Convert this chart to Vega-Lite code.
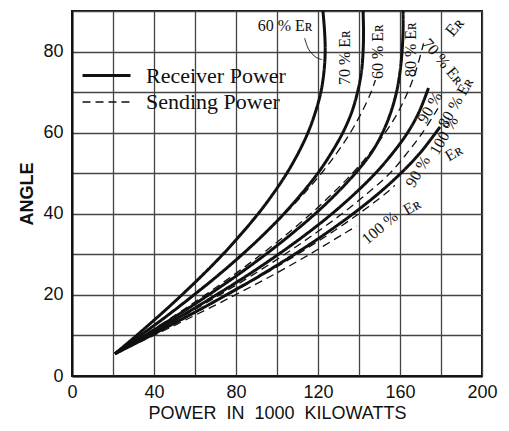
{
  "$schema": "https://vega.github.io/schema/vega-lite/v6.json",
  "width": 410,
  "height": 365,
  "autosize": "none",
  "padding": {"left": 72, "top": 11, "right": 27, "bottom": 55},
  "background": "white",
  "config": {"view": {"stroke": "#111", "strokeWidth": 2}, "font": "Liberation Sans"},
  "datasets": {
    "curves": [
      {"type": "Receiver Power", "er": "60", "angle": 5.5, "power": 21},
      {"type": "Receiver Power", "er": "60", "angle": 10, "power": 31.5},
      {"type": "Receiver Power", "er": "60", "angle": 15, "power": 42.8},
      {"type": "Receiver Power", "er": "60", "angle": 20, "power": 53.6},
      {"type": "Receiver Power", "er": "60", "angle": 25, "power": 63.9},
      {"type": "Receiver Power", "er": "60", "angle": 30, "power": 73.6},
      {"type": "Receiver Power", "er": "60", "angle": 35, "power": 82.5},
      {"type": "Receiver Power", "er": "60", "angle": 40, "power": 90.8},
      {"type": "Receiver Power", "er": "60", "angle": 45, "power": 98.2},
      {"type": "Receiver Power", "er": "60", "angle": 50, "power": 104.8},
      {"type": "Receiver Power", "er": "60", "angle": 55, "power": 110.4},
      {"type": "Receiver Power", "er": "60", "angle": 60, "power": 115.1},
      {"type": "Receiver Power", "er": "60", "angle": 65, "power": 118.7},
      {"type": "Receiver Power", "er": "60", "angle": 70, "power": 121.4},
      {"type": "Receiver Power", "er": "60", "angle": 75, "power": 122.9},
      {"type": "Receiver Power", "er": "60", "angle": 80, "power": 123.5},
      {"type": "Receiver Power", "er": "60", "angle": 85, "power": 123.2},
      {"type": "Receiver Power", "er": "60", "angle": 90, "power": 122.4},
      {"type": "Receiver Power", "er": "70", "angle": 5.5, "power": 21},
      {"type": "Receiver Power", "er": "70", "angle": 10, "power": 33.4},
      {"type": "Receiver Power", "er": "70", "angle": 15, "power": 46.8},
      {"type": "Receiver Power", "er": "70", "angle": 20, "power": 59.5},
      {"type": "Receiver Power", "er": "70", "angle": 25, "power": 71.7},
      {"type": "Receiver Power", "er": "70", "angle": 30, "power": 83.1},
      {"type": "Receiver Power", "er": "70", "angle": 35, "power": 93.7},
      {"type": "Receiver Power", "er": "70", "angle": 40, "power": 103.4},
      {"type": "Receiver Power", "er": "70", "angle": 45, "power": 112.1},
      {"type": "Receiver Power", "er": "70", "angle": 50, "power": 119.9},
      {"type": "Receiver Power", "er": "70", "angle": 55, "power": 126.5},
      {"type": "Receiver Power", "er": "70", "angle": 60, "power": 132.1},
      {"type": "Receiver Power", "er": "70", "angle": 65, "power": 136.4},
      {"type": "Receiver Power", "er": "70", "angle": 70, "power": 139.3},
      {"type": "Receiver Power", "er": "70", "angle": 75, "power": 141.2},
      {"type": "Receiver Power", "er": "70", "angle": 80, "power": 142},
      {"type": "Receiver Power", "er": "70", "angle": 85, "power": 142.2},
      {"type": "Receiver Power", "er": "70", "angle": 90, "power": 142},
      {"type": "Receiver Power", "er": "80", "angle": 5.5, "power": 21},
      {"type": "Receiver Power", "er": "80", "angle": 10, "power": 35.6},
      {"type": "Receiver Power", "er": "80", "angle": 15, "power": 51.5},
      {"type": "Receiver Power", "er": "80", "angle": 20, "power": 66.6},
      {"type": "Receiver Power", "er": "80", "angle": 25, "power": 81},
      {"type": "Receiver Power", "er": "80", "angle": 30, "power": 94.5},
      {"type": "Receiver Power", "er": "80", "angle": 35, "power": 107},
      {"type": "Receiver Power", "er": "80", "angle": 40, "power": 118.6},
      {"type": "Receiver Power", "er": "80", "angle": 45, "power": 129},
      {"type": "Receiver Power", "er": "80", "angle": 50, "power": 138.2},
      {"type": "Receiver Power", "er": "80", "angle": 55, "power": 146},
      {"type": "Receiver Power", "er": "80", "angle": 60, "power": 151.5},
      {"type": "Receiver Power", "er": "80", "angle": 65, "power": 155.5},
      {"type": "Receiver Power", "er": "80", "angle": 70, "power": 158.3},
      {"type": "Receiver Power", "er": "80", "angle": 75, "power": 160},
      {"type": "Receiver Power", "er": "80", "angle": 80, "power": 161},
      {"type": "Receiver Power", "er": "80", "angle": 85, "power": 161.5},
      {"type": "Receiver Power", "er": "80", "angle": 90, "power": 161.5},
      {"type": "Receiver Power", "er": "90", "angle": 5.5, "power": 21},
      {"type": "Receiver Power", "er": "90", "angle": 10, "power": 36.9},
      {"type": "Receiver Power", "er": "90", "angle": 15, "power": 54.1},
      {"type": "Receiver Power", "er": "90", "angle": 20, "power": 70.4},
      {"type": "Receiver Power", "er": "90", "angle": 25, "power": 86.1},
      {"type": "Receiver Power", "er": "90", "angle": 30, "power": 100.7},
      {"type": "Receiver Power", "er": "90", "angle": 35, "power": 114.3},
      {"type": "Receiver Power", "er": "90", "angle": 40, "power": 126.8},
      {"type": "Receiver Power", "er": "90", "angle": 45, "power": 138},
      {"type": "Receiver Power", "er": "90", "angle": 50, "power": 148},
      {"type": "Receiver Power", "er": "90", "angle": 55, "power": 156.5},
      {"type": "Receiver Power", "er": "90", "angle": 60, "power": 163.7},
      {"type": "Receiver Power", "er": "90", "angle": 65, "power": 169.2},
      {"type": "Receiver Power", "er": "90", "angle": 71, "power": 173.9},
      {"type": "Receiver Power", "er": "100", "angle": 5.5, "power": 21},
      {"type": "Receiver Power", "er": "100", "angle": 10, "power": 38.5},
      {"type": "Receiver Power", "er": "100", "angle": 15, "power": 57.3},
      {"type": "Receiver Power", "er": "100", "angle": 20, "power": 75.3},
      {"type": "Receiver Power", "er": "100", "angle": 25, "power": 92.5},
      {"type": "Receiver Power", "er": "100", "angle": 30, "power": 108.5},
      {"type": "Receiver Power", "er": "100", "angle": 35, "power": 123.4},
      {"type": "Receiver Power", "er": "100", "angle": 40, "power": 137.1},
      {"type": "Receiver Power", "er": "100", "angle": 45, "power": 149.5},
      {"type": "Receiver Power", "er": "100", "angle": 50, "power": 160.4},
      {"type": "Receiver Power", "er": "100", "angle": 55, "power": 169.8},
      {"type": "Receiver Power", "er": "100", "angle": 61.4, "power": 179.5},
      {"type": "Sending Power", "er": "60", "angle": 5.5, "power": 21},
      {"type": "Sending Power", "er": "60", "angle": 10, "power": 33.2},
      {"type": "Sending Power", "er": "60", "angle": 15, "power": 46.4},
      {"type": "Sending Power", "er": "60", "angle": 20, "power": 59.1},
      {"type": "Sending Power", "er": "60", "angle": 25, "power": 71.3},
      {"type": "Sending Power", "er": "60", "angle": 30, "power": 82.9},
      {"type": "Sending Power", "er": "60", "angle": 35, "power": 93.7},
      {"type": "Sending Power", "er": "60", "angle": 40, "power": 103.9},
      {"type": "Sending Power", "er": "60", "angle": 45, "power": 113.2},
      {"type": "Sending Power", "er": "60", "angle": 50, "power": 121.7},
      {"type": "Sending Power", "er": "60", "angle": 55, "power": 129.2},
      {"type": "Sending Power", "er": "60", "angle": 60, "power": 135.8},
      {"type": "Sending Power", "er": "60", "angle": 65, "power": 141.3},
      {"type": "Sending Power", "er": "60", "angle": 70, "power": 145.9},
      {"type": "Sending Power", "er": "60", "angle": 73, "power": 148},
      {"type": "Sending Power", "er": "70", "angle": 5.5, "power": 21},
      {"type": "Sending Power", "er": "70", "angle": 10, "power": 35.1},
      {"type": "Sending Power", "er": "70", "angle": 15, "power": 50.4},
      {"type": "Sending Power", "er": "70", "angle": 20, "power": 65},
      {"type": "Sending Power", "er": "70", "angle": 25, "power": 79.1},
      {"type": "Sending Power", "er": "70", "angle": 30, "power": 92.4},
      {"type": "Sending Power", "er": "70", "angle": 35, "power": 104.9},
      {"type": "Sending Power", "er": "70", "angle": 40, "power": 116.5},
      {"type": "Sending Power", "er": "70", "angle": 45, "power": 127.1},
      {"type": "Sending Power", "er": "70", "angle": 50, "power": 136.8},
      {"type": "Sending Power", "er": "70", "angle": 55, "power": 145.3},
      {"type": "Sending Power", "er": "70", "angle": 60, "power": 152.8},
      {"type": "Sending Power", "er": "70", "angle": 65, "power": 159},
      {"type": "Sending Power", "er": "70", "angle": 70, "power": 163.8},
      {"type": "Sending Power", "er": "70", "angle": 75, "power": 167.6},
      {"type": "Sending Power", "er": "70", "angle": 82, "power": 171.5},
      {"type": "Sending Power", "er": "80", "angle": 5.5, "power": 21},
      {"type": "Sending Power", "er": "80", "angle": 10, "power": 37.3},
      {"type": "Sending Power", "er": "80", "angle": 15, "power": 55.1},
      {"type": "Sending Power", "er": "80", "angle": 20, "power": 72.1},
      {"type": "Sending Power", "er": "80", "angle": 25, "power": 88.4},
      {"type": "Sending Power", "er": "80", "angle": 30, "power": 103.8},
      {"type": "Sending Power", "er": "80", "angle": 35, "power": 118.2},
      {"type": "Sending Power", "er": "80", "angle": 40, "power": 131.7},
      {"type": "Sending Power", "er": "80", "angle": 45, "power": 144},
      {"type": "Sending Power", "er": "80", "angle": 50, "power": 155.1},
      {"type": "Sending Power", "er": "80", "angle": 55, "power": 163.5},
      {"type": "Sending Power", "er": "80", "angle": 60, "power": 171},
      {"type": "Sending Power", "er": "80", "angle": 66, "power": 178.5},
      {"type": "Sending Power", "er": "90", "angle": 5.5, "power": 21},
      {"type": "Sending Power", "er": "90", "angle": 10, "power": 38.6},
      {"type": "Sending Power", "er": "90", "angle": 15, "power": 57.7},
      {"type": "Sending Power", "er": "90", "angle": 20, "power": 75.9},
      {"type": "Sending Power", "er": "90", "angle": 25, "power": 93.5},
      {"type": "Sending Power", "er": "90", "angle": 30, "power": 110},
      {"type": "Sending Power", "er": "90", "angle": 35, "power": 125.5},
      {"type": "Sending Power", "er": "90", "angle": 40, "power": 139.9},
      {"type": "Sending Power", "er": "90", "angle": 45, "power": 153},
      {"type": "Sending Power", "er": "90", "angle": 47, "power": 157.5},
      {"type": "Sending Power", "er": "100", "angle": 5.5, "power": 21},
      {"type": "Sending Power", "er": "100", "angle": 10, "power": 39.9},
      {"type": "Sending Power", "er": "100", "angle": 15, "power": 60.1},
      {"type": "Sending Power", "er": "100", "angle": 20, "power": 79.7},
      {"type": "Sending Power", "er": "100", "angle": 25, "power": 98.4},
      {"type": "Sending Power", "er": "100", "angle": 30, "power": 115.9},
      {"type": "Sending Power", "er": "100", "angle": 35, "power": 132.3},
      {"type": "Sending Power", "er": "100", "angle": 37, "power": 139}
    ],
    "labels": [
      {"g": "h", "label": "60 % Eʀ", "power": 104, "angle": 86.4},
      {"g": "v", "label": "70 % Eʀ", "power": 133.2, "angle": 78.5},
      {"g": "v", "label": "60 % Eʀ", "power": 149.3, "angle": 80},
      {"g": "v", "label": "80 % Eʀ", "power": 165.4, "angle": 80.5},
      {"g": "d", "label": "70 % Eʀ", "power": 181, "angle": 77.5},
      {"g": "u50", "label": "Eʀ", "power": 186.8, "angle": 86},
      {"g": "u60", "label": "90 %", "power": 174.6, "angle": 66.2},
      {"g": "u60", "label": "80 % Eʀ", "power": 187.3, "angle": 67.4},
      {"g": "u60", "label": "100 %", "power": 181.5, "angle": 59.3},
      {"g": "u60", "label": "90 %", "power": 168.8, "angle": 50.4},
      {"g": "u30", "label": "Eʀ", "power": 186.3, "angle": 55},
      {"g": "u30", "label": "Eʀ", "power": 165.9, "angle": 41.7},
      {"g": "u40", "label": "100 %", "power": 150.2, "angle": 36.5}
    ],
    "arrow": [
      {"power": 113.5, "angle": 83.3},
      {"power": 115.5, "angle": 80.5},
      {"power": 119, "angle": 78.6},
      {"power": 122, "angle": 78}
    ]
  },
  "layer": [
    {
      "data": {"name": "curves"},
      "mark": {"type": "line", "interpolate": "catmull-rom", "color": "#111"},
      "encoding": {
        "x": {
          "field": "power", "type": "quantitative",
          "scale": {"domain": [0, 200], "nice": false, "zero": false},
          "axis": {
            "values": [0, 20, 40, 60, 80, 100, 120, 140, 160, 180, 200],
            "labelExpr": "datum.value % 40 === 0 ? datum.label : ''",
            "title": "POWER\u00a0\u00a0IN\u00a0\u00a01000\u00a0\u00a0KILOWATTS",
            "grid": true, "gridColor": "#444", "gridWidth": 1.3, "gridOpacity": 1,
            "ticks": false, "domainColor": "#111", "domainWidth": 2,
            "labelFontSize": 18, "labelPadding": 7, "labelColor": "#111", "labelFlush": false,
            "titleFontSize": 18, "titleFontWeight": "normal", "titlePadding": 3, "titleColor": "#111"
          }
        },
        "y": {
          "field": "angle", "type": "quantitative",
          "scale": {"domain": [0, 90], "nice": false},
          "axis": {
            "values": [0, 10, 20, 30, 40, 50, 60, 70, 80, 90],
            "labelExpr": "datum.value % 20 === 0 ? datum.label : ''",
            "title": "ANGLE",
            "grid": true, "gridColor": "#444", "gridWidth": 1.3, "gridOpacity": 1,
            "ticks": false, "domainColor": "#111", "domainWidth": 2,
            "labelFontSize": 18, "labelPadding": 9, "labelColor": "#111", "labelFlush": false,
            "titleFontSize": 18, "titleFontWeight": "bold", "titlePadding": 6, "titleColor": "#111"
          }
        },
        "order": {"field": "angle", "type": "quantitative"},
        "detail": {"field": "er", "type": "nominal"},
        "strokeDash": {
          "field": "type", "type": "nominal",
          "scale": {"domain": ["Receiver Power", "Sending Power"], "range": [[1, 0], [8, 5]]},
          "legend": {
            "orient": "none", "legendX": 21, "legendY": 51, "title": null, "padding": 0,
            "symbolType": "M-2,0H2", "symbolSize": 576, "symbolStrokeColor": "#111",
            "labelFont": "Liberation Serif", "labelFontSize": 22, "labelColor": "#111",
            "labelOffset": 26, "rowPadding": 2
          }
        },
        "strokeWidth": {
          "field": "type", "type": "nominal",
          "scale": {"domain": ["Receiver Power", "Sending Power"], "range": [3, 1.3]},
          "legend": {
            "orient": "none", "legendX": 21, "legendY": 51, "title": null, "padding": 0,
            "symbolType": "M-2,0H2", "symbolSize": 576, "symbolStrokeColor": "#111",
            "labelFont": "Liberation Serif", "labelFontSize": 22, "labelColor": "#111",
            "labelOffset": 26, "rowPadding": 2
          }
        }
      }
    },
    {
      "data": {"name": "arrow"},
      "mark": {"type": "line", "interpolate": "catmull-rom", "color": "#222", "strokeWidth": 1},
      "encoding": {
        "x": {"field": "power", "type": "quantitative"},
        "y": {"field": "angle", "type": "quantitative"},
        "order": {"field": "angle", "type": "quantitative", "sort": "descending"}
      }
    },
    {
      "data": {"name": "labels"},
      "transform": [{"filter": "datum.g === 'h'"}],
      "mark": {"type": "text", "font": "Liberation Serif", "fontSize": 16, "color": "#111", "angle": 0},
      "encoding": {
        "x": {"field": "power", "type": "quantitative"},
        "y": {"field": "angle", "type": "quantitative"},
        "text": {"field": "label"}
      }
    },
    {
      "data": {"name": "labels"},
      "transform": [{"filter": "datum.g === 'v'"}],
      "mark": {"type": "text", "font": "Liberation Serif", "fontSize": 16, "color": "#111", "angle": 270},
      "encoding": {
        "x": {"field": "power", "type": "quantitative"},
        "y": {"field": "angle", "type": "quantitative"},
        "text": {"field": "label"}
      }
    },
    {
      "data": {"name": "labels"},
      "transform": [{"filter": "datum.g === 'd'"}],
      "mark": {"type": "text", "font": "Liberation Serif", "fontSize": 16, "color": "#111", "angle": 50},
      "encoding": {
        "x": {"field": "power", "type": "quantitative"},
        "y": {"field": "angle", "type": "quantitative"},
        "text": {"field": "label"}
      }
    },
    {
      "data": {"name": "labels"},
      "transform": [{"filter": "datum.g === 'u50'"}],
      "mark": {"type": "text", "font": "Liberation Serif", "fontSize": 17, "color": "#111", "angle": 310},
      "encoding": {
        "x": {"field": "power", "type": "quantitative"},
        "y": {"field": "angle", "type": "quantitative"},
        "text": {"field": "label"}
      }
    },
    {
      "data": {"name": "labels"},
      "transform": [{"filter": "datum.g === 'u60'"}],
      "mark": {"type": "text", "font": "Liberation Serif", "fontSize": 16, "color": "#111", "angle": 300},
      "encoding": {
        "x": {"field": "power", "type": "quantitative"},
        "y": {"field": "angle", "type": "quantitative"},
        "text": {"field": "label"}
      }
    },
    {
      "data": {"name": "labels"},
      "transform": [{"filter": "datum.g === 'u30'"}],
      "mark": {"type": "text", "font": "Liberation Serif", "fontSize": 16, "color": "#111", "angle": 330},
      "encoding": {
        "x": {"field": "power", "type": "quantitative"},
        "y": {"field": "angle", "type": "quantitative"},
        "text": {"field": "label"}
      }
    },
    {
      "data": {"name": "labels"},
      "transform": [{"filter": "datum.g === 'u40'"}],
      "mark": {"type": "text", "font": "Liberation Serif", "fontSize": 16, "color": "#111", "angle": 320},
      "encoding": {
        "x": {"field": "power", "type": "quantitative"},
        "y": {"field": "angle", "type": "quantitative"},
        "text": {"field": "label"}
      }
    }
  ]
}
